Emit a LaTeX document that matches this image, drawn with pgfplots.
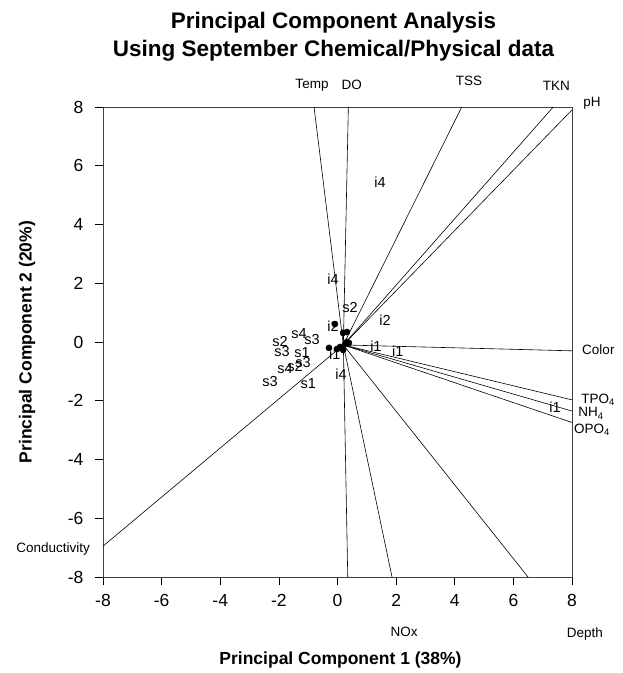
\documentclass[border=0pt]{standalone}
\usepackage{fontspec}
\setmainfont{Liberation Sans}
\usepackage{pgfplots}
\usepackage{pgfplotstable}
\pgfplotsset{compat=1.18}

\pgfplotstableread{
x y lab
1.45 5.45 i4
-0.15 2.14 i4
0.43 1.16 s2
1.62 0.75 i2
-0.15 0.54 i2
-1.31 0.27 s4
-0.87 0.07 s3
-1.96 0.03 s2
-1.89 -0.31 s3
-1.21 -0.37 s1
1.31 -0.14 i1
2.06 -0.31 i1
-0.09 -0.41 i1
-1.79 -0.89 s4
-1.45 -0.82 s2
-1.18 -0.71 s3
-2.30 -1.36 s3
-1.00 -1.40 s1
0.12 -1.09 i4
7.42 -2.21 i1
}\samples

\pgfplotstableread{
x y
-0.09 0.61
0.19 0.31
0.32 0.34
-0.29 -0.20
0.32 0.00
0.39 -0.03
0.09 -0.17
-0.02 -0.24
0.26 -0.07
0.19 -0.27
}\dots

\begin{document}
\begin{tikzpicture}
\useasboundingbox (-103pt,-96pt) rectangle (520pt,577pt);
\begin{axis}[
  at={(0pt,0pt)}, anchor=south west,
  scale only axis, width=469pt, height=470pt,
  xmin=-8, xmax=8, ymin=-8, ymax=8,
  xtick={-8,-6,...,8}, ytick={-8,-6,...,8},
  tick align=outside, tick pos=left,
  major tick length=8pt,
  axis line style={line width=0.8pt, black!75},
  every tick/.style={black, line width=0.7pt},
  ticklabel style={font=\fontsize{17.5}{20}\selectfont},
  /pgf/number format/assume math mode=true,
  xticklabel style={yshift=-6pt},
  yticklabel style={xshift=-8pt},
  clip=false,
  title={Principal Component Analysis\\Using September Chemical/Physical data},
  title style={align=center, font=\bfseries\fontsize{22.5}{28}\selectfont,
    at={(axis description cs:0.5,1)}, anchor=south, yshift=36pt, xshift=-4pt},
  xlabel={Principal Component 1 (38\%)},
  ylabel={Principal Component 2 (20\%)},
  xlabel style={font=\bfseries\fontsize{17.5}{20}\selectfont,
    at={(axis description cs:0.5,0)}, anchor=center, yshift=-83pt, xshift=3pt},
  ylabel style={font=\bfseries\fontsize{17.5}{20}\selectfont,
    at={(axis description cs:-0.162,0.5)}, anchor=center, rotate=0},
]
% variable vectors
\addplot[black, line width=0.6pt] coordinates {(0.2,-0.1) (-0.80,8)};
\addplot[black, line width=0.6pt] coordinates {(0.2,-0.1) (0.37,8)};
\addplot[black, line width=0.6pt] coordinates {(0.2,-0.1) (4.24,8)};
\addplot[black, line width=0.6pt] coordinates {(0.2,-0.1) (7.36,8)};
\addplot[black, line width=0.6pt] coordinates {(0.2,-0.1) (8,7.90)};
\addplot[black, line width=0.6pt] coordinates {(0.2,-0.1) (8,-0.30)};
\addplot[black, line width=0.6pt] coordinates {(0.2,-0.1) (8,-1.97)};
\addplot[black, line width=0.6pt] coordinates {(0.2,-0.1) (8,-2.35)};
\addplot[black, line width=0.6pt] coordinates {(0.2,-0.1) (8,-2.74)};
\addplot[black, line width=0.6pt] coordinates {(0.2,-0.1) (-8,-6.95)};
\addplot[black, line width=0.6pt] coordinates {(0.2,-0.1) (0.35,-8)};
\addplot[black, line width=0.6pt] coordinates {(0.2,-0.1) (1.86,-8)};
\addplot[black, line width=0.6pt] coordinates {(0.2,-0.1) (6.50,-8)};
% sample labels
\addplot[only marks, mark=none, nodes near coords, point meta=explicit symbolic,
  every node near coord/.style={anchor=center, font=\fontsize{14.5}{16}\selectfont}]
  table[x=x, y=y, meta=lab] {\samples};
% score dots
\addplot[only marks, mark=*, mark size=3.1pt, black] table[x=x,y=y] {\dots};
% variable names
\begin{scope}[every node/.style={font=\fontsize{13.5}{16}\selectfont}]
\node at (axis cs:-0.87,8.75) {Temp};
\node at (axis cs:0.49,8.75) {DO};
\node at (axis cs:4.49,8.89) {TSS};
\node at (axis cs:7.47,8.71) {TKN};
\node at (axis cs:8.68,8.14) {pH};
\node at (axis cs:8.90,-0.27) {Color};
\node at (axis cs:8.89,-1.98) {TPO\textsubscript{4}};
\node at (axis cs:8.65,-2.43) {NH\textsubscript{4}};
\node at (axis cs:8.68,-3.00) {OPO\textsubscript{4}};
\node at (axis cs:-9.70,-7.05) {Conductivity};
\node at (axis cs:2.27,-9.87) {NOx};
\node at (axis cs:8.44,-9.94) {Depth};
\end{scope}
\end{axis}
\end{tikzpicture}
\end{document}
